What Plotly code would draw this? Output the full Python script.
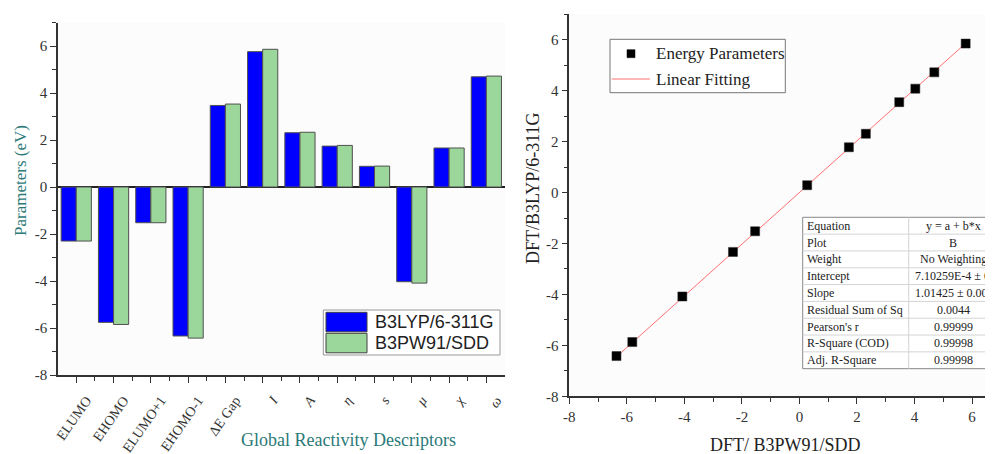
import plotly.graph_objects as go

# page body has an 8px default margin; the figure is sized so it ends at the window edge
OFF = 8
W, H = 993 - OFF, 454 - OFF

# ---------------- data ----------------
categories = ["ELUMO", "EHOMO", "ELUMO+1", "EHOMO-1", "ΔE Gap",
              "<i>I</i>", "<i>A</i>", "<i>η</i>", "<i>s</i>", "<i>μ</i>", "<i>χ</i>", "<i>ω</i>"]
b3lyp_values = [-2.30, -5.76, -1.52, -6.34, 3.47, 5.76, 2.31, 1.74, 0.88, -4.03, 1.66, 4.69]
b3pw91_values = [-2.30, -5.85, -1.52, -6.43, 3.53, 5.86, 2.33, 1.77, 0.89, -4.09, 1.66, 4.72]
series_names = ["B3LYP/6-311G", "B3PW91/SDD"]

scatter_x = [-6.36, -5.81, -4.07, -2.31, -1.54, 0.27, 1.72, 2.31, 3.47, 4.03, 4.69, 5.78]
scatter_y = [-6.42, -5.87, -4.08, -2.33, -1.52, 0.29, 1.78, 2.31, 3.55, 4.08, 4.72, 5.85]
fit_intercept = 7.10259e-4
fit_slope = 1.01425

tick_values = [-8, -6, -4, -2, 0, 2, 4, 6]
tick_labels = ["-8", "-6", "-4", "-2", "0", "2", "4", "6"]

table_labels = ["Equation", "Plot", "Weight", "Intercept", "Slope",
                "Residual Sum of Sq", "Pearson's r", "R-Square (COD)", "Adj. R-Square"]
table_values = ["y = a + b*x", "B", "No Weighting", "7.10259E-4 ± 0.0", "1.01425 ± 0.001",
                "0.0044", "0.99999", "0.99998", "0.99998"]
table_clipped = [False, False, False, True, True, False, False, False, False]

# ---------------- helpers (window pixel -> paper) ----------------
def px(x):
    return (x - OFF) / W

def py(y):
    return 1 - (y - OFF) / H

SERIF = "Liberation Serif"
SANS = "Liberation Sans"
TEAL = "#2b7a78"
AX = "#333333"
BLUE = "#0000ff"
GREEN = "#9bd69b"

fig = go.Figure()

xidx = list(range(len(categories)))
fig.add_trace(go.Bar(x=xidx, y=b3lyp_values, name=series_names[0], marker=dict(color=BLUE, line=dict(color="#505050", width=1)),
                     xaxis="x", yaxis="y", showlegend=False))
fig.add_trace(go.Bar(x=xidx, y=b3pw91_values, name=series_names[1], marker=dict(color=GREEN, line=dict(color="#505050", width=1)),
                     xaxis="x", yaxis="y", showlegend=False))

fit_x = [min(scatter_x), max(scatter_x)]
fit_y = [fit_intercept + fit_slope * v for v in fit_x]
fig.add_trace(go.Scatter(x=fit_x, y=fit_y, mode="lines", line=dict(color="#ff7070", width=1),
                         xaxis="x2", yaxis="y2", showlegend=False, name="Linear Fitting"))
fig.add_trace(go.Scatter(x=scatter_x, y=scatter_y, mode="markers",
                         marker=dict(symbol="square", size=9, color="black", line=dict(color="#222", width=0.5)),
                         xaxis="x2", yaxis="y2", showlegend=False, name="Energy Parameters"))

tickfont = dict(family=SERIF, size=15, color="#333")
minor = dict(ticks="outside", ticklen=4, tickcolor=AX, tickwidth=1.2)
common = dict(showgrid=False, showline=True, linecolor=AX, linewidth=1.5, ticks="outside",
              ticklen=6, tickwidth=1.2, tickcolor=AX, automargin=False)

fig.update_layout(
    width=W, height=H, margin=dict(l=0, r=0, t=0, b=0, autoexpand=False),
    paper_bgcolor="white", plot_bgcolor="#fcfcfc", showlegend=False,
    barmode="group", bargap=0.19, bargroupgap=0.0,
    xaxis=dict(domain=[px(58), px(505)], range=[-0.49, 11.5], anchor="y", zeroline=False,
               tickmode="array", tickvals=xidx, ticktext=categories, tickangle=-55,
               tickfont=dict(family=SERIF, size=14, color="#333"),
               ticklabelshift=10, ticklabelstandoff=4,
               minor=dict(tickvals=[i + 0.5 for i in xidx[:-1]], **minor), **common),
    yaxis=dict(domain=[py(375), py(22.5)], range=[-8, 7], anchor="x", tickfont=tickfont,
               tickmode="array", tickvals=tick_values, ticktext=tick_labels,
               minor=dict(dtick=1, tick0=0, **minor), zeroline=True, zerolinecolor="#222", zerolinewidth=1.5, **common),
    xaxis2=dict(domain=[px(569.3), 1.0], range=[-8, 6.73], anchor="y2", zeroline=False, tickfont=tickfont,
                tickmode="array", tickvals=tick_values, ticktext=tick_labels,
                minor=dict(dtick=1, tick0=0, **minor), **common),
    yaxis2=dict(domain=[py(396.3), py(14.3)], range=[-8, 7], anchor="x2", zeroline=False, tickfont=tickfont,
                tickmode="array", tickvals=tick_values, ticktext=tick_labels,
                minor=dict(dtick=1, tick0=0, **minor), **common),
)

shapes = []
annotations = []

# axis titles
annotations.append(dict(x=px(348), y=py(440), xref="paper", yref="paper", text="Global Reactivity Descriptors",
                        showarrow=False, font=dict(family=SERIF, size=18, color=TEAL), xanchor="center", yanchor="middle"))
annotations.append(dict(x=px(20), y=py(181), xref="paper", yref="paper", text="Parameters (eV)", textangle=-90,
                        showarrow=False, font=dict(family=SERIF, size=17, color=TEAL), xanchor="center", yanchor="middle"))
annotations.append(dict(x=px(785), y=py(445), xref="paper", yref="paper", text="DFT/ B3PW91/SDD",
                        showarrow=False, font=dict(family=SERIF, size=18, color="#222"), xanchor="center", yanchor="middle"))
annotations.append(dict(x=px(533), y=py(188), xref="paper", yref="paper", text="DFT/B3LYP/6-311G", textangle=-90,
                        showarrow=False, font=dict(family=SERIF, size=18, color="#222"), xanchor="center", yanchor="middle"))

# left legend (custom)
shapes.append(dict(type="rect", xref="paper", yref="paper", x0=px(323.3), x1=px(500), y0=py(355), y1=py(310),
                   line=dict(color="#999", width=1), fillcolor="white"))
leg_colors = [BLUE, GREEN]
for i, (nm, col) in enumerate(zip(series_names, leg_colors)):
    top = 312.3 + i * 21
    shapes.append(dict(type="rect", xref="paper", yref="paper", x0=px(326), x1=px(367), y0=py(top + 19.5), y1=py(top),
                       line=dict(color="#404040", width=1), fillcolor=col))
    annotations.append(dict(x=px(373), y=py(top + 10), xref="paper", yref="paper", text=nm, showarrow=False,
                            font=dict(family=SANS, size=18, color="#222"), xanchor="left", yanchor="middle"))

# right legend (custom)
shapes.append(dict(type="rect", xref="paper", yref="paper", x0=px(610), x1=px(785.3), y0=py(92.7), y1=py(39.3),
                   line=dict(color="#777", width=1), fillcolor="white"))
shapes.append(dict(type="rect", xref="paper", yref="paper", x0=px(627), x1=px(635), y0=py(57.7), y1=py(49.7),
                   line=dict(color="black", width=0.5), fillcolor="black"))
shapes.append(dict(type="line", xref="paper", yref="paper", x0=px(611.7), x1=px(650), y0=py(79), y1=py(79),
                   line=dict(color="#ff7070", width=1)))
annotations.append(dict(x=px(654), y=py(54), xref="paper", yref="paper", text="Energy Parameters", showarrow=False,
                        font=dict(family=SERIF, size=17, color="#222"), xanchor="left", yanchor="middle"))
annotations.append(dict(x=px(654), y=py(79), xref="paper", yref="paper", text="Linear Fitting", showarrow=False,
                        font=dict(family=SERIF, size=17, color="#222"), xanchor="left", yanchor="middle"))

# fit table (custom)
t_left, t_top, t_row, t_div, t_right = 802.7, 217.3, 16.82, 908.7, 1000
n = len(table_labels)
t_bot = t_top + n * t_row
shapes.append(dict(type="rect", xref="paper", yref="paper", x0=px(t_left), x1=px(t_right), y0=py(t_bot), y1=py(t_top),
                   line=dict(color="#888", width=1), fillcolor="white"))
for i in range(1, n):
    yy = t_top + i * t_row
    shapes.append(dict(type="line", xref="paper", yref="paper", x0=px(t_left), x1=px(t_right), y0=py(yy), y1=py(yy),
                       line=dict(color="#d4d4d4", width=1)))
shapes.append(dict(type="line", xref="paper", yref="paper", x0=px(t_div), x1=px(t_div), y0=py(t_bot), y1=py(t_top),
                   line=dict(color="#d4d4d4", width=1)))
tfont = dict(family=SERIF, size=12, color="#222")
for i, (lab, val, clip) in enumerate(zip(table_labels, table_values, table_clipped)):
    yc = t_top + (i + 0.5) * t_row
    annotations.append(dict(x=px(805), y=py(yc), xref="paper", yref="paper", text=lab, showarrow=False,
                            font=tfont, xanchor="left", yanchor="middle"))
    if clip:
        annotations.append(dict(x=px(913), y=py(yc), xref="paper", yref="paper", text=val, showarrow=False,
                                font=tfont, xanchor="left", yanchor="middle"))
    else:
        annotations.append(dict(x=px(953), y=py(yc), xref="paper", yref="paper", text=val, showarrow=False,
                                font=tfont, xanchor="center", yanchor="middle"))

fig.update_layout(shapes=shapes, annotations=annotations)
fig.write_html("out.html")
